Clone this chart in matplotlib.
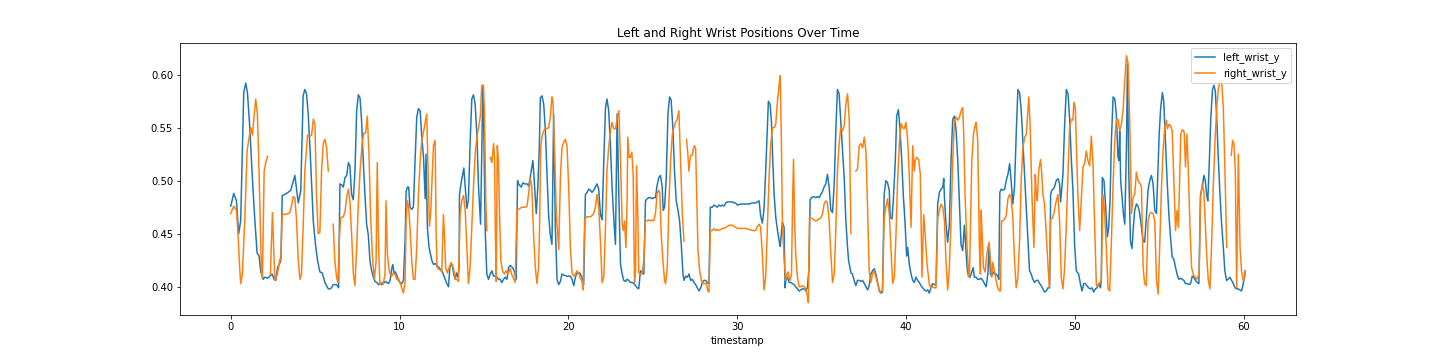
import numpy as np
import matplotlib
matplotlib.use("Agg")
import matplotlib.pyplot as plt

nan = np.nan

# left_wrist_y : (timestamp, value)
left_wrist = [
    (0.00, 0.476), (0.18, 0.488), (0.34, 0.481), (0.47, 0.450), (0.59, 0.462), (0.77, 0.583),
    (0.89, 0.592), (0.99, 0.583), (1.13, 0.550), (1.27, 0.506), (1.42, 0.465), (1.56, 0.432),
    (1.68, 0.429), (1.78, 0.414), (1.92, 0.407), (2.02, 0.409), (2.18, 0.408), (2.31, 0.410),
    (2.45, 0.412), (2.57, 0.407), (2.67, 0.406), (2.77, 0.418), (2.87, 0.421), (2.97, 0.425),
    (3.05, 0.486), (3.20, 0.487), (3.40, 0.489), (3.56, 0.491), (3.80, 0.505), (4.00, 0.479),
    (4.15, 0.491), (4.29, 0.580), (4.39, 0.586), (4.49, 0.582), (4.59, 0.563), (4.73, 0.519),
    (4.89, 0.462), (5.02, 0.440), (5.14, 0.425), (5.28, 0.414), (5.42, 0.413), (5.58, 0.404),
    (5.78, 0.398), (5.88, 0.398), (5.97, 0.399), (6.07, 0.402), (6.27, 0.402), (6.39, 0.399),
    (6.47, 0.497), (6.57, 0.496), (6.67, 0.494), (6.77, 0.503), (6.87, 0.505), (6.97, 0.517),
    (7.06, 0.514), (7.16, 0.487), (7.26, 0.482), (7.36, 0.509), (7.46, 0.566), (7.56, 0.581),
    (7.66, 0.578), (7.75, 0.557), (7.85, 0.519), (7.95, 0.487), (8.05, 0.459), (8.15, 0.449),
    (8.25, 0.424), (8.35, 0.415), (8.45, 0.409), (8.55, 0.405), (8.65, 0.404), (8.75, 0.402),
    (8.84, 0.403), (8.94, 0.402), (9.04, 0.403), (9.14, 0.405), (9.24, 0.404), (9.34, 0.403),
    (9.44, 0.406), (9.54, 0.417), (9.60, 0.421), (9.67, 0.413), (9.75, 0.414), (9.83, 0.411),
    (9.93, 0.406), (10.03, 0.404), (10.13, 0.403), (10.23, 0.406), (10.33, 0.444), (10.39, 0.490),
    (10.47, 0.494), (10.54, 0.494), (10.62, 0.475), (10.72, 0.473), (10.82, 0.475), (10.92, 0.519),
    (11.02, 0.560), (11.12, 0.568), (11.22, 0.566), (11.32, 0.541), (11.42, 0.522), (11.52, 0.483),
    (11.57, 0.525), (11.65, 0.456), (11.75, 0.437), (11.91, 0.425), (12.01, 0.421), (12.11, 0.422),
    (12.21, 0.420), (12.40, 0.417), (12.54, 0.414), (12.66, 0.409), (12.80, 0.403), (12.90, 0.400),
    (12.98, 0.418), (13.06, 0.421), (13.13, 0.420), (13.21, 0.412), (13.29, 0.407), (13.37, 0.413),
    (13.45, 0.409), (13.53, 0.418), (13.55, 0.487), (13.65, 0.498), (13.75, 0.507), (13.81, 0.512),
    (13.89, 0.494), (13.99, 0.474), (14.08, 0.482), (14.18, 0.535), (14.28, 0.577), (14.38, 0.581),
    (14.48, 0.572), (14.58, 0.544), (14.68, 0.494), (14.80, 0.459), (14.87, 0.525), (14.93, 0.588),
    (14.99, 0.550), (15.07, 0.456), (15.17, 0.412), (15.27, 0.407), (15.37, 0.412), (15.47, 0.415),
    (15.57, 0.410), (15.67, 0.410), (15.77, 0.409), (15.86, 0.407), (15.96, 0.407), (16.06, 0.404),
    (16.16, 0.407), (16.26, 0.409), (16.36, 0.407), (16.46, 0.418), (16.56, 0.420), (16.70, 0.418),
    (16.81, 0.414), (16.91, 0.407), (16.99, 0.500), (17.05, 0.497), (17.15, 0.495), (17.21, 0.494),
    (17.31, 0.498), (17.41, 0.497), (17.55, 0.497), (17.65, 0.495), (17.74, 0.503), (17.84, 0.513),
    (17.90, 0.519), (17.98, 0.500), (18.10, 0.469), (18.20, 0.497), (18.28, 0.531), (18.34, 0.578),
    (18.44, 0.580), (18.54, 0.572), (18.63, 0.550), (18.73, 0.509), (18.83, 0.468), (18.93, 0.449),
    (19.03, 0.440), (19.13, 0.563), (19.23, 0.456), (19.33, 0.407), (19.43, 0.402), (19.53, 0.405),
    (19.62, 0.412), (19.72, 0.411), (19.92, 0.410), (20.12, 0.410), (20.22, 0.407), (20.32, 0.401),
    (20.42, 0.409), (20.51, 0.413), (20.67, 0.413), (20.81, 0.409), (20.91, 0.402), (21.01, 0.487),
    (21.11, 0.489), (21.21, 0.492), (21.31, 0.491), (21.40, 0.489), (21.50, 0.491), (21.60, 0.494),
    (21.70, 0.497), (21.80, 0.492), (21.90, 0.468), (22.00, 0.463), (22.10, 0.519), (22.20, 0.569),
    (22.29, 0.577), (22.39, 0.566), (22.49, 0.535), (22.59, 0.494), (22.69, 0.465), (22.79, 0.440),
    (22.89, 0.563), (22.99, 0.487), (23.09, 0.421), (23.19, 0.412), (23.28, 0.406), (23.38, 0.405),
    (23.48, 0.407), (23.58, 0.406), (23.68, 0.404), (23.78, 0.404), (23.88, 0.403), (23.98, 0.401),
    (24.08, 0.399), (24.17, 0.398), (24.27, 0.415), (24.37, 0.414), (24.47, 0.412), (24.57, 0.481),
    (24.67, 0.483), (24.77, 0.484), (24.87, 0.484), (24.97, 0.483), (25.06, 0.484), (25.16, 0.484),
    (25.26, 0.496), (25.36, 0.503), (25.46, 0.505), (25.56, 0.494), (25.62, 0.472), (25.70, 0.475),
    (25.80, 0.503), (25.90, 0.563), (26.00, 0.579), (26.09, 0.576), (26.19, 0.550), (26.29, 0.509),
    (26.39, 0.481), (26.49, 0.473), (26.59, 0.462), (26.69, 0.440), (26.79, 0.412), (26.85, 0.406),
    (26.95, 0.410), (27.05, 0.409), (27.15, 0.412), (27.24, 0.406), (27.34, 0.407), (27.44, 0.404),
    (27.54, 0.402), (27.64, 0.399), (27.74, 0.396), (27.84, 0.399), (27.94, 0.404), (28.04, 0.406),
    (28.13, 0.406), (28.23, 0.404), (28.33, 0.403), (28.41, 0.475), (28.53, 0.475), (28.63, 0.477),
    (28.73, 0.476), (28.82, 0.475), (28.92, 0.477), (29.02, 0.476), (29.12, 0.477), (29.22, 0.476),
    (29.32, 0.479), (29.42, 0.480), (29.52, 0.480), (29.72, 0.480), (29.81, 0.479), (29.91, 0.479),
    (30.01, 0.477), (30.21, 0.478), (30.31, 0.478), (30.51, 0.478), (30.70, 0.478), (30.90, 0.479),
    (31.00, 0.479), (31.10, 0.479), (31.20, 0.480), (31.30, 0.481), (31.39, 0.467), (31.49, 0.460),
    (31.59, 0.473), (31.69, 0.509), (31.79, 0.550), (31.85, 0.575), (31.95, 0.572), (32.03, 0.556),
    (32.11, 0.519), (32.19, 0.487), (32.29, 0.465), (32.39, 0.453), (32.49, 0.443), (32.55, 0.438),
    (32.68, 0.461), (32.78, 0.456), (32.84, 0.399), (32.88, 0.406), (32.98, 0.409), (33.08, 0.404),
    (33.18, 0.404), (33.28, 0.403), (33.37, 0.402), (33.47, 0.400), (33.57, 0.398), (33.67, 0.396),
    (33.77, 0.397), (33.87, 0.398), (33.97, 0.398), (34.07, 0.396), (34.16, 0.399), (34.26, 0.418),
    (34.32, 0.482), (34.40, 0.484), (34.52, 0.485), (34.66, 0.484), (34.76, 0.485), (34.86, 0.484),
    (34.96, 0.487), (35.06, 0.490), (35.15, 0.494), (35.25, 0.497), (35.35, 0.506), (35.45, 0.494),
    (35.55, 0.472), (35.65, 0.470), (35.75, 0.497), (35.85, 0.550), (35.94, 0.586), (36.04, 0.582),
    (36.14, 0.556), (36.24, 0.531), (36.34, 0.503), (36.44, 0.462), (36.54, 0.437), (36.60, 0.425),
    (36.74, 0.413), (36.83, 0.412), (36.93, 0.406), (37.03, 0.401), (37.13, 0.406), (37.23, 0.406),
    (37.33, 0.405), (37.43, 0.406), (37.53, 0.403), (37.63, 0.400), (37.73, 0.397), (37.82, 0.401),
    (37.92, 0.412), (38.02, 0.415), (38.12, 0.417), (38.22, 0.412), (38.32, 0.404), (38.42, 0.396),
    (38.52, 0.394), (38.61, 0.395), (38.71, 0.487), (38.81, 0.500), (38.91, 0.498), (39.01, 0.491),
    (39.07, 0.465), (39.17, 0.464), (39.25, 0.481), (39.37, 0.519), (39.45, 0.561), (39.55, 0.567),
    (39.64, 0.550), (39.74, 0.522), (39.84, 0.487), (39.94, 0.462), (40.04, 0.429), (40.10, 0.437),
    (40.20, 0.421), (40.30, 0.412), (40.40, 0.406), (40.49, 0.404), (40.59, 0.409), (40.69, 0.406),
    (40.79, 0.404), (40.89, 0.401), (40.99, 0.399), (41.09, 0.397), (41.19, 0.396), (41.29, 0.397),
    (41.38, 0.394), (41.48, 0.399), (41.58, 0.403), (41.68, 0.402), (41.78, 0.402), (41.88, 0.478),
    (41.98, 0.489), (42.08, 0.492), (42.18, 0.494), (42.24, 0.502), (42.28, 0.484), (42.37, 0.459),
    (42.47, 0.442), (42.57, 0.459), (42.67, 0.519), (42.77, 0.558), (42.87, 0.561), (42.97, 0.547),
    (43.07, 0.519), (43.17, 0.478), (43.26, 0.440), (43.36, 0.434), (43.46, 0.458), (43.52, 0.443),
    (43.62, 0.418), (43.70, 0.410), (43.80, 0.409), (43.90, 0.414), (43.98, 0.418), (44.05, 0.409),
    (44.15, 0.409), (44.25, 0.407), (44.35, 0.407), (44.45, 0.408), (44.55, 0.406), (44.65, 0.403),
    (44.75, 0.400), (44.85, 0.412), (44.93, 0.440), (45.00, 0.412), (45.08, 0.410), (45.14, 0.414),
    (45.24, 0.412), (45.34, 0.412), (45.44, 0.410), (45.50, 0.407), (45.56, 0.489), (45.64, 0.492),
    (45.74, 0.491), (45.84, 0.492), (45.94, 0.500), (46.04, 0.506), (46.14, 0.516), (46.23, 0.500),
    (46.33, 0.478), (46.43, 0.494), (46.53, 0.544), (46.63, 0.586), (46.73, 0.583), (46.83, 0.566),
    (46.93, 0.535), (47.03, 0.503), (47.13, 0.472), (47.19, 0.456), (47.32, 0.415), (47.42, 0.412),
    (47.52, 0.407), (47.62, 0.404), (47.72, 0.406), (47.82, 0.406), (47.92, 0.403), (48.01, 0.401),
    (48.11, 0.398), (48.21, 0.395), (48.31, 0.396), (48.41, 0.399), (48.51, 0.399), (48.57, 0.487),
    (48.64, 0.491), (48.72, 0.492), (48.80, 0.494), (48.90, 0.500), (49.00, 0.502), (49.10, 0.497),
    (49.16, 0.480), (49.30, 0.506), (49.40, 0.553), (49.50, 0.586), (49.60, 0.582), (49.69, 0.560),
    (49.79, 0.522), (49.89, 0.491), (49.99, 0.440), (50.09, 0.415), (50.23, 0.412), (50.33, 0.403),
    (50.43, 0.396), (50.53, 0.403), (50.62, 0.403), (50.72, 0.401), (50.82, 0.399), (50.92, 0.398),
    (51.02, 0.399), (51.12, 0.395), (51.22, 0.398), (51.32, 0.399), (51.42, 0.403), (51.52, 0.399),
    (51.57, 0.406), (51.63, 0.503), (51.73, 0.500), (51.83, 0.475), (51.93, 0.447), (52.01, 0.456),
    (52.09, 0.481), (52.17, 0.538), (52.27, 0.579), (52.37, 0.577), (52.46, 0.563), (52.56, 0.522),
    (52.62, 0.519), (52.66, 0.547), (52.72, 0.500), (52.80, 0.484), (52.88, 0.469), (52.96, 0.459),
    (53.06, 0.531), (53.12, 0.610), (53.20, 0.506), (53.30, 0.443), (53.39, 0.436), (53.47, 0.456),
    (53.55, 0.472), (53.65, 0.478), (53.75, 0.476), (53.85, 0.469), (53.95, 0.456), (54.05, 0.443),
    (54.14, 0.442), (54.24, 0.465), (54.34, 0.491), (54.44, 0.500), (54.54, 0.505), (54.64, 0.497),
    (54.74, 0.472), (54.84, 0.469), (55.00, 0.544), (55.09, 0.569), (55.19, 0.583), (55.27, 0.575),
    (55.37, 0.538), (55.47, 0.500), (55.57, 0.469), (55.67, 0.447), (55.77, 0.428), (55.87, 0.426),
    (55.97, 0.418), (56.06, 0.412), (56.16, 0.407), (56.26, 0.408), (56.36, 0.407), (56.46, 0.406),
    (56.56, 0.403), (56.66, 0.403), (56.76, 0.402), (56.86, 0.403), (56.96, 0.410), (57.05, 0.409),
    (57.15, 0.406), (57.25, 0.404), (57.35, 0.403), (57.45, 0.487), (57.55, 0.494), (57.65, 0.505),
    (57.73, 0.500), (57.81, 0.487), (57.88, 0.481), (57.96, 0.513), (58.06, 0.560), (58.16, 0.586),
    (58.24, 0.590), (58.32, 0.585), (58.40, 0.563), (58.50, 0.522), (58.60, 0.487), (58.70, 0.459),
    (58.80, 0.437), (58.89, 0.415), (58.99, 0.406), (59.09, 0.407), (59.19, 0.409), (59.29, 0.406),
    (59.39, 0.403), (59.49, 0.399), (59.58, 0.398), (59.68, 0.398), (59.78, 0.397), (59.88, 0.396),
    (59.98, 0.403), (60.08, 0.412), (60.10, 0.415),
]

# right_wrist_y : (timestamp, value); nan marks missing samples
right_wrist = [
    (0.00, 0.469), (0.18, 0.476), (0.34, 0.472), (0.44, 0.447), (0.53, 0.418), (0.59, 0.403),
    (0.69, 0.412), (0.83, 0.462), (0.97, 0.528), (1.09, 0.541), (1.19, 0.550), (1.29, 0.543),
    (1.38, 0.560), (1.48, 0.577), (1.58, 0.563), (1.66, 0.519), (1.76, 0.456), (1.82, 0.415),
    (1.88, 0.409), (1.98, 0.509), (2.06, 0.516), (2.18, 0.523), (2.26, nan),
    (2.35, 0.412), (2.47, 0.470), (2.61, 0.407), (2.77, 0.412), (2.91, 0.426), (2.97, 0.425),
    (3.05, 0.469), (3.20, 0.468), (3.40, 0.469), (3.50, 0.470), (3.60, 0.476), (3.70, 0.485),
    (3.80, 0.484), (3.90, 0.462), (4.00, 0.425), (4.10, 0.407), (4.19, 0.412), (4.29, 0.456),
    (4.39, 0.509), (4.55, 0.543), (4.69, 0.542), (4.79, 0.543), (4.89, 0.558), (4.99, 0.553),
    (5.08, 0.487), (5.18, 0.450), (5.28, 0.451), (5.38, 0.509), (5.48, 0.535), (5.58, 0.539),
    (5.68, 0.531), (5.78, 0.509), (5.90, nan),
    (6.07, 0.459), (6.17, 0.424), (6.27, 0.409), (6.35, 0.404), (6.43, 0.443), (6.51, 0.465),
    (6.67, 0.466), (6.77, 0.471), (6.87, 0.484), (6.97, 0.492), (7.06, 0.481), (7.16, 0.450),
    (7.26, 0.413), (7.36, 0.401), (7.46, 0.437), (7.56, 0.478), (7.66, 0.509), (7.79, 0.536),
    (7.89, 0.545), (7.99, 0.545), (8.09, 0.561), (8.19, 0.525), (8.29, 0.465), (8.41, 0.424),
    (8.51, 0.407), (8.61, 0.424), (8.68, 0.517), (8.76, 0.437), (8.84, 0.402), (8.94, 0.404),
    (9.04, 0.403), (9.14, 0.412), (9.20, 0.481), (9.28, 0.431), (9.36, 0.418), (9.44, 0.412),
    (9.54, 0.410), (9.63, 0.413), (9.73, 0.412), (9.83, 0.407), (9.93, 0.408), (10.03, 0.404),
    (10.13, 0.399), (10.23, 0.394), (10.33, 0.405), (10.39, 0.462), (10.47, 0.481), (10.54, 0.475),
    (10.62, 0.456), (10.72, 0.425), (10.82, 0.407), (10.92, 0.407), (11.02, 0.437), (11.12, 0.487),
    (11.22, 0.519), (11.32, 0.538), (11.42, 0.546), (11.52, 0.555), (11.61, 0.563), (11.71, 0.494),
    (11.77, 0.457), (11.85, 0.470), (11.93, 0.503), (12.01, 0.533), (12.11, 0.538), (12.17, 0.450),
    (12.22, 0.419), (12.27, 0.417), (12.40, 0.416), (12.50, 0.414), (12.60, 0.468), (12.66, 0.449),
    (12.73, 0.418), (12.83, 0.413), (12.94, 0.418), (13.06, 0.423), (13.19, 0.418), (13.29, 0.408),
    (13.39, 0.407), (13.49, 0.405), (13.59, 0.468), (13.69, 0.481), (13.79, 0.486), (13.89, 0.472),
    (13.99, 0.437), (14.08, 0.403), (14.18, 0.418), (14.28, 0.456), (14.38, 0.494), (14.48, 0.525),
    (14.58, 0.541), (14.68, 0.550), (14.78, 0.560), (14.87, 0.590), (14.97, 0.590), (15.03, 0.566),
    (15.11, 0.481), (15.17, 0.453), (15.27, nan),
    (15.37, 0.522), (15.47, 0.517), (15.57, 0.535), (15.63, 0.522), (15.67, 0.456), (15.73, 0.405),
    (15.79, 0.533), (15.85, 0.522), (15.92, 0.472), (16.00, 0.425), (16.10, 0.415), (16.20, 0.412),
    (16.30, 0.415), (16.42, 0.412), (16.56, 0.417), (16.66, 0.411), (16.75, 0.408), (16.85, 0.404),
    (16.95, 0.472), (17.05, 0.473), (17.25, 0.475), (17.45, 0.475), (17.55, 0.476), (17.65, 0.488),
    (17.74, 0.502), (17.84, 0.494), (17.94, 0.450), (18.04, 0.419), (18.14, 0.403), (18.24, 0.419),
    (18.30, 0.460), (18.36, 0.530), (18.44, 0.542), (18.54, 0.547), (18.63, 0.550), (18.73, 0.549),
    (18.83, 0.550), (18.93, 0.560), (19.03, 0.579), (19.09, 0.574), (19.17, 0.535), (19.29, 0.469),
    (19.43, 0.435), (19.53, 0.503), (19.62, 0.531), (19.72, 0.536), (19.82, 0.539), (19.92, 0.533),
    (20.02, 0.494), (20.12, 0.437), (20.22, 0.413), (20.32, 0.410), (20.42, 0.412), (20.51, 0.415),
    (20.61, 0.413), (20.71, 0.408), (20.81, 0.405), (20.87, 0.397), (20.97, 0.464), (21.11, 0.466),
    (21.31, 0.466), (21.40, 0.467), (21.50, 0.469), (21.60, 0.475), (21.70, 0.487), (21.80, 0.475),
    (21.90, 0.443), (22.00, 0.404), (22.10, 0.409), (22.20, 0.456), (22.29, 0.510), (22.39, 0.531),
    (22.49, 0.547), (22.59, 0.555), (22.69, 0.549), (22.79, 0.549), (22.89, 0.558), (22.99, 0.566),
    (23.09, 0.519), (23.19, 0.459), (23.25, 0.453), (23.33, 0.462), (23.41, 0.437), (23.48, 0.481),
    (23.52, 0.541), (23.60, 0.522), (23.68, 0.522), (23.76, 0.527), (23.84, 0.506), (23.92, 0.404),
    (23.98, 0.415), (24.04, 0.514), (24.12, 0.463), (24.17, 0.413), (24.27, 0.412), (24.37, 0.412),
    (24.47, 0.425), (24.57, 0.463), (24.67, 0.462), (24.77, 0.463), (24.87, 0.462), (24.97, 0.463),
    (25.06, 0.462), (25.16, 0.469), (25.26, 0.488), (25.36, 0.491), (25.42, 0.488), (25.50, 0.450),
    (25.60, 0.425), (25.70, 0.406), (25.76, 0.403), (25.86, 0.418), (25.96, 0.481), (26.06, 0.519),
    (26.16, 0.544), (26.25, 0.550), (26.35, 0.555), (26.45, 0.558), (26.55, 0.566), (26.65, 0.519),
    (26.75, 0.469), (26.85, 0.443), (26.92, nan),
    (27.00, 0.539), (27.08, 0.525), (27.14, 0.509), (27.20, 0.519), (27.26, 0.524), (27.34, 0.524),
    (27.40, 0.530), (27.48, 0.533), (27.54, 0.530), (27.60, 0.487), (27.68, 0.434), (27.78, 0.415),
    (27.88, 0.406), (27.98, 0.403), (28.07, 0.403), (28.17, 0.403), (28.27, 0.396), (28.33, 0.395),
    (28.41, 0.453), (28.53, 0.453), (28.63, 0.455), (28.73, 0.453), (28.82, 0.454), (28.92, 0.453),
    (29.02, 0.454), (29.12, 0.455), (29.22, 0.455), (29.32, 0.456), (29.42, 0.457), (29.52, 0.458),
    (29.62, 0.458), (29.72, 0.458), (29.81, 0.457), (29.91, 0.456), (30.01, 0.455), (30.21, 0.455),
    (30.31, 0.455), (30.51, 0.455), (30.70, 0.454), (30.90, 0.453), (31.00, 0.453), (31.10, 0.453),
    (31.20, 0.457), (31.30, 0.459), (31.39, 0.456), (31.49, 0.431), (31.59, 0.397), (31.69, 0.409),
    (31.79, 0.456), (31.89, 0.503), (31.99, 0.534), (32.09, 0.550), (32.19, 0.550), (32.29, 0.554),
    (32.39, 0.575), (32.49, 0.591), (32.55, 0.599), (32.62, 0.538), (32.68, 0.459), (32.78, 0.426),
    (32.88, 0.406), (32.94, 0.412), (33.02, 0.414), (33.08, 0.409), (33.14, 0.406), (33.22, 0.412),
    (33.28, 0.478), (33.34, 0.520), (33.40, 0.462), (33.47, 0.431), (33.57, 0.409), (33.67, 0.400),
    (33.77, 0.400), (33.87, 0.401), (33.97, 0.400), (34.07, 0.397), (34.16, 0.392), (34.22, 0.385),
    (34.28, 0.465), (34.36, 0.465), (34.56, 0.463), (34.66, 0.462), (34.76, 0.463), (34.86, 0.464),
    (34.96, 0.465), (35.06, 0.469), (35.15, 0.478), (35.25, 0.481), (35.35, 0.479), (35.45, 0.462),
    (35.55, 0.431), (35.65, 0.404), (35.75, 0.412), (35.85, 0.456), (35.94, 0.509), (36.04, 0.535),
    (36.14, 0.550), (36.24, 0.547), (36.34, 0.552), (36.44, 0.572), (36.54, 0.582), (36.64, 0.557),
    (36.74, 0.450), (36.90, nan),
    (37.03, 0.509), (37.13, 0.511), (37.23, 0.533), (37.33, 0.535), (37.43, 0.531), (37.53, 0.541),
    (37.63, 0.528), (37.73, 0.472), (37.82, 0.415), (37.92, 0.404), (38.02, 0.412), (38.12, 0.415),
    (38.22, 0.409), (38.32, 0.403), (38.42, 0.397), (38.52, 0.395), (38.61, 0.397), (38.71, 0.465),
    (38.81, 0.475), (38.91, 0.483), (39.01, 0.469), (39.11, 0.437), (39.21, 0.403), (39.31, 0.409),
    (39.41, 0.450), (39.51, 0.503), (39.61, 0.535), (39.71, 0.554), (39.80, 0.550), (39.90, 0.549),
    (40.00, 0.555), (40.10, 0.538), (40.20, 0.503), (40.30, 0.456), (40.40, 0.533), (40.49, 0.509),
    (40.55, 0.519), (40.63, 0.522), (40.75, 0.520), (40.85, 0.506), (40.95, 0.409), (41.05, 0.468),
    (41.15, 0.446), (41.25, 0.421), (41.38, 0.403), (41.48, 0.399), (41.58, 0.400), (41.68, 0.399),
    (41.78, 0.399), (41.88, 0.465), (41.98, 0.472), (42.08, 0.478), (42.18, 0.475), (42.28, 0.462),
    (42.37, 0.425), (42.47, 0.397), (42.57, 0.418), (42.67, 0.462), (42.77, 0.519), (42.87, 0.557),
    (42.97, 0.560), (43.07, 0.557), (43.17, 0.560), (43.27, 0.566), (43.36, 0.569), (43.42, 0.544),
    (43.50, 0.487), (43.62, 0.437), (43.70, 0.415), (43.76, 0.409), (43.82, 0.456), (43.90, 0.519),
    (44.00, 0.544), (44.09, 0.552), (44.15, 0.555), (44.25, 0.538), (44.35, 0.437), (44.41, 0.412),
    (44.45, 0.472), (44.51, 0.450), (44.59, 0.418), (44.69, 0.414), (44.77, 0.428), (44.85, 0.437),
    (44.93, 0.442), (45.00, 0.425), (45.08, 0.409), (45.14, 0.423), (45.24, 0.415), (45.34, 0.406),
    (45.44, 0.399), (45.54, 0.396), (45.60, 0.396), (45.66, 0.462), (45.74, 0.462), (45.84, 0.464),
    (45.94, 0.467), (46.04, 0.483), (46.14, 0.487), (46.23, 0.484), (46.33, 0.465), (46.43, 0.425),
    (46.53, 0.399), (46.63, 0.409), (46.73, 0.443), (46.83, 0.503), (46.93, 0.531), (47.03, 0.541),
    (47.13, 0.544), (47.22, 0.566), (47.28, 0.579), (47.36, 0.550), (47.46, 0.487), (47.58, 0.437),
    (47.66, 0.506), (47.72, 0.487), (47.78, 0.481), (47.86, 0.509), (47.97, 0.520), (48.05, 0.506),
    (48.11, 0.487), (48.21, 0.478), (48.31, 0.450), (48.41, 0.421), (48.49, 0.399), (48.57, 0.464),
    (48.64, 0.464), (48.76, 0.469), (48.86, 0.478), (49.00, 0.487), (49.10, 0.462), (49.20, 0.409),
    (49.30, 0.398), (49.40, 0.418), (49.50, 0.459), (49.60, 0.506), (49.69, 0.550), (49.79, 0.558),
    (49.89, 0.557), (49.95, 0.574), (50.03, 0.569), (50.11, 0.528), (50.19, 0.484), (50.29, 0.453),
    (50.39, 0.484), (50.49, 0.513), (50.58, 0.516), (50.68, 0.528), (50.78, 0.519), (50.88, 0.514),
    (50.98, 0.542), (51.08, 0.516), (51.18, 0.456), (51.28, 0.401), (51.38, 0.401), (51.48, 0.404),
    (51.57, 0.406), (51.67, 0.487), (51.77, 0.469), (51.87, 0.437), (51.97, 0.398), (52.07, 0.396),
    (52.17, 0.443), (52.27, 0.497), (52.37, 0.538), (52.46, 0.557), (52.56, 0.558), (52.66, 0.547),
    (52.76, 0.553), (52.86, 0.566), (52.96, 0.594), (53.06, 0.618), (53.16, 0.610), (53.26, 0.553),
    (53.36, 0.469), (53.45, 0.484), (53.55, 0.487), (53.65, 0.508), (53.75, 0.500), (53.85, 0.498),
    (53.95, 0.494), (54.05, 0.418), (54.14, 0.403), (54.24, 0.401), (54.34, 0.462), (54.44, 0.469),
    (54.54, 0.470), (54.64, 0.469), (54.74, 0.462), (54.84, 0.406), (54.94, 0.393), (55.03, 0.437),
    (55.13, 0.491), (55.23, 0.528), (55.33, 0.550), (55.43, 0.557), (55.49, 0.549), (55.57, 0.553),
    (55.67, 0.552), (55.77, 0.547), (55.87, 0.500), (55.97, 0.453), (56.06, 0.472), (56.14, 0.456),
    (56.22, 0.506), (56.28, 0.544), (56.38, 0.548), (56.48, 0.546), (56.56, 0.513), (56.64, 0.544),
    (56.72, 0.513), (56.82, 0.459), (56.92, 0.418), (57.02, 0.412), (57.12, 0.409), (57.21, 0.407),
    (57.31, 0.410), (57.37, 0.412), (57.45, 0.484), (57.55, 0.497), (57.65, 0.489), (57.73, 0.461),
    (57.81, 0.431), (57.91, 0.406), (58.01, 0.398), (58.11, 0.443), (58.21, 0.497), (58.31, 0.538),
    (58.41, 0.569), (58.50, 0.586), (58.60, 0.593), (58.70, 0.594), (58.80, 0.569), (58.90, 0.506),
    (59.00, 0.437), (59.15, nan),
    (59.27, 0.524), (59.35, 0.538), (59.43, 0.535), (59.51, 0.509), (59.59, 0.399), (59.69, 0.525),
    (59.79, 0.437), (59.88, 0.415), (59.98, 0.406), (60.08, 0.410), (60.10, 0.415),
]

left_t = [p[0] for p in left_wrist]
left_y = [p[1] for p in left_wrist]
right_t = [p[0] for p in right_wrist]
right_y = [p[1] for p in right_wrist]

fig, ax = plt.subplots(figsize=(20, 5), dpi=72)
fig.subplots_adjust(left=0.125, right=0.9, top=0.88, bottom=0.125)
ax.plot(left_t, left_y, color="#1f77b4", linewidth=1.5, label="left_wrist_y")
ax.plot(right_t, right_y, color="#ff7f0e", linewidth=1.5, label="right_wrist_y")
ax.set_title("Left and Right Wrist Positions Over Time")
ax.set_xlabel("timestamp")
ax.legend(loc="upper right")
fig.savefig("out.png", dpi=72)
